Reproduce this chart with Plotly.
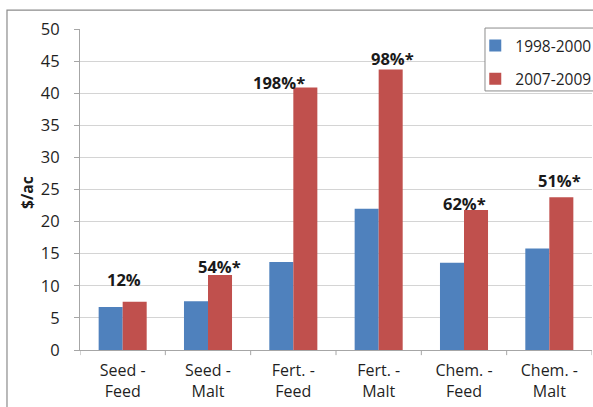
import plotly.graph_objects as go

categories = ["Seed -<br>Feed", "Seed -<br>Malt", "Fert. -<br>Feed", "Fert. -<br>Malt", "Chem. -<br>Feed", "Chem. -<br>Malt"]
series_names = ["1998-2000", "2007-2009"]
values_1998_2000 = [6.7, 7.6, 13.7, 22.0, 13.6, 15.8]
values_2007_2009 = [7.5, 11.7, 40.9, 43.7, 21.8, 23.8]
pct_labels = ["12%", "54%*", "198%*", "98%*", "62%*", "51%*"]
y_ticks = [0, 5, 10, 15, 20, 25, 30, 35, 40, 45, 50]

# label placement (style): x offset in category units, vertical shift in px
label_dx = [0.01, 0.137, -0.17, 0.164, 0.0, 0.12]
label_yshift = [22, 8, 5, 11, 7, 17]

FONT = "'Open Sans', Lato, sans-serif"
BLUE = "#4F81BD"
RED = "#C0504D"

fig = go.Figure()
fig.add_trace(go.Bar(x=list(range(len(categories))), y=values_1998_2000, name=series_names[0],
                     marker=dict(color=BLUE, line=dict(width=0)), legendgroup="a"))
fig.add_trace(go.Bar(x=list(range(len(categories))), y=values_2007_2009, name=series_names[1],
                     marker=dict(color=RED, line=dict(width=0)), legendgroup="b"))

for i, (lab, v) in enumerate(zip(pct_labels, values_2007_2009)):
    fig.add_annotation(x=i + label_dx[i], y=v, xref="x", yref="y", text="<b>" + lab + "</b>",
                       showarrow=False, yshift=label_yshift[i], yanchor="middle", xanchor="center",
                       font=dict(family=FONT, size=16.5, color="#1a1a1a"))

# y-axis title
fig.add_annotation(x=-0.105, y=0.49, xref="paper", yref="paper", text="<b>$/ac</b>",
                   xanchor="center", yanchor="middle",
                   textangle=-90, showarrow=False, font=dict(family=FONT, size=15.5, color="#1a1a1a"))

# outer chart border
fig.add_shape(type="rect", xref="paper", yref="paper", x0=-0.1426, x1=1.05, y0=-0.25, y1=1.059,
              line=dict(color="#8c8c8c", width=1.2), fillcolor="rgba(0,0,0,0)", layer="below")
# legend box
fig.add_shape(type="rect", xref="paper", yref="paper", x0=0.791, x1=1.05, y0=0.807, y1=1.003,
              line=dict(color="#8c8c8c", width=1), fillcolor="white", layer="above")

fig.update_layout(
    width=593, height=407,
    margin=dict(l=80, r=1, t=29, b=57, autoexpand=False),
    paper_bgcolor="white", plot_bgcolor="white",
    barmode="group", bargap=0.437, bargroupgap=0,
    font=dict(family=FONT, size=16, color="#1f1f1f"),
    showlegend=True,
    legend=dict(x=0.772, y=1.0, xanchor="left", yanchor="top", bgcolor="rgba(0,0,0,0)",
                borderwidth=0, traceorder="grouped", tracegroupgap=10,
                font=dict(family=FONT, size=15.5, color="#1f1f1f"), itemwidth=30),
    xaxis=dict(tickmode="array", tickvals=list(range(len(categories))), ticktext=categories,
               range=[-0.5, len(categories) - 0.5], showgrid=False, showline=True,
               linecolor="#a6a6a6", linewidth=1, ticks="", zeroline=False, ticklabelstandoff=6,
               tickfont=dict(family=FONT, size=16, color="#1f1f1f")),
    yaxis=dict(range=[0, 50], tickvals=y_ticks, showgrid=True, gridcolor="#d4d4d4", gridwidth=1,
               showline=True, linecolor="#a6a6a6", linewidth=1, ticks="outside", ticklen=5,
               tickcolor="#a6a6a6", zeroline=False, ticklabelstandoff=11,
               tickfont=dict(family=FONT, size=16.5, color="#1f1f1f")),
)

# category boundary ticks on x axis
for b in [i - 0.5 for i in range(len(categories) + 1)]:
    fig.add_shape(type="line", xref="x", yref="paper", x0=b, x1=b, y0=0, y1=-0.016,
                  line=dict(color="#a6a6a6", width=1))

fig.write_html("out.html", config={"displayModeBar": False},
               post_script="document.body.style.margin='0';document.body.style.overflow='hidden';")
